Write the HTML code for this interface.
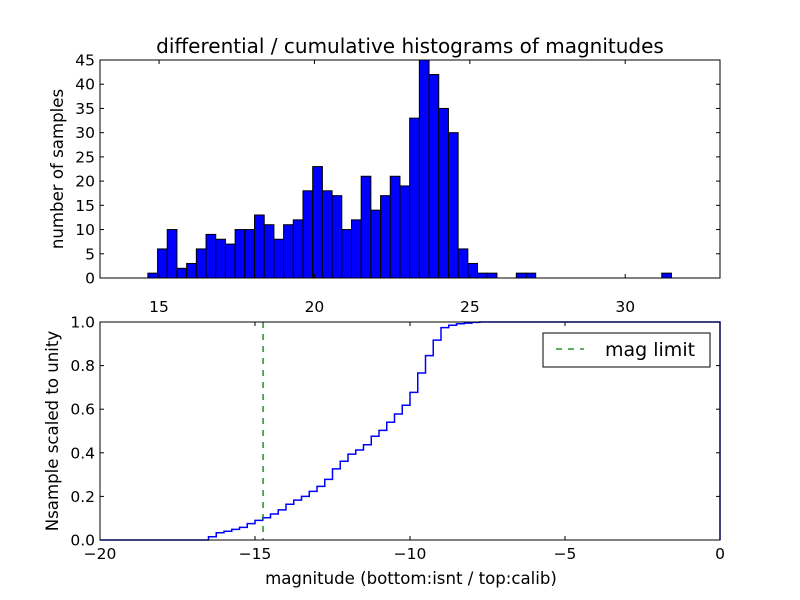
<!DOCTYPE html>
<html><head><meta charset="utf-8">
<style>
html,body{margin:0;padding:0;background:#fff;}
svg{display:block;font-family:"DejaVu Sans","Liberation Sans",sans-serif;}
</style></head>
<body>
<svg id="chart" width="800" height="600" viewBox="0 0 800 600" xmlns="http://www.w3.org/2000/svg">
<rect x="0" y="0" width="800" height="600" fill="#ffffff"/>
<text x="410" y="53" font-size="20" text-anchor="middle">differential / cumulative histograms of magnitudes</text>
<g id="topAxes"></g>
<g id="bottomAxes"></g>
<text x="63" y="169" font-size="16.6" text-anchor="middle" transform="rotate(-90 63 169)">number of samples</text>
<text x="58" y="431" font-size="16.6" text-anchor="middle" transform="rotate(-90 58 431)">Nsample scaled to unity</text>
<text x="411" y="584" font-size="16.6" text-anchor="middle">magnitude (bottom:isnt / top:calib)</text>
</svg>
<script>
// ---- top histogram data ----
const histStart = 14.64;
const histBinWidth = 0.312;
const histCounts = [1,6,10,2,3,6,9,8,7,10,10,13,11,8,11,12,18,23,18,17,10,12,21,14,17,21,19,33,45,42,35,30,6,3,1,1,0,0,1,1,0,0,0,0,0,0,0,0,0,0,0,0,0,1];
const topXTicks = [15,20,25,30];
const topYTicks = [0,5,10,15,20,25,30,35,40,45];
// ---- bottom cumulative data ----
const cumStart = -16.5;
const cumBinWidth = 0.25;
const cumValues = [0.015,0.033,0.04,0.049,0.058,0.075,0.09,0.102,0.119,0.138,0.164,0.183,0.2,0.223,0.246,0.278,0.326,0.361,0.394,0.413,0.437,0.476,0.503,0.54,0.578,0.618,0.677,0.766,0.846,0.917,0.974,0.985,0.992,0.995,0.998,1.0];
const magLimit = -14.74;
const botXTicks = [-20,-15,-10,-5,0];
const botYTicks = [0.0,0.2,0.4,0.6,0.8,1.0];

const NS = "http://www.w3.org/2000/svg";
function mk(parent, tag, attrs){const e=document.createElementNS(NS,tag);for(const k in attrs)e.setAttribute(k,attrs[k]);parent.appendChild(e);return e;}

// top axes
const TL=100,TR=720,TT=60,TB=278;
const txMin=13.1,txMax=33.05,tyMax=45;
const tx=v=>TL+(v-txMin)/(txMax-txMin)*(TR-TL);
const ty=v=>TB-v/tyMax*(TB-TT);
const topG=document.getElementById('topAxes');
histCounts.forEach((c,i)=>{
  if(c<=0) return;
  const x0=tx(histStart+i*histBinWidth), x1=tx(histStart+(i+1)*histBinWidth);
  const r=mk(topG,'rect',{x:x0,y:ty(c),width:x1-x0,height:ty(0)-ty(c),fill:'#0000ff',stroke:'#000','stroke-width':1});
  
  
});
const tf=mk(topG,'rect',{x:TL,y:TT,width:TR-TL,height:TB-TT,fill:'none',stroke:'#000','stroke-width':1});


topXTicks.forEach(v=>{
  const x=tx(v);
  mk(topG,'line',{x1:x,y1:TB,x2:x,y2:TB-4,stroke:'#000'});
  mk(topG,'line',{x1:x,y1:TT,x2:x,y2:TT+4,stroke:'#000'});
  const t=mk(topG,'text',{x:x,y:312,'font-size':15.5,'text-anchor':'middle'});
  t.textContent=v;
  
  
});
topYTicks.forEach(v=>{
  const y=ty(v);
  mk(topG,'line',{x1:TL,y1:y,x2:TL+4,y2:y,stroke:'#000'});
  mk(topG,'line',{x1:TR,y1:y,x2:TR-4,y2:y,stroke:'#000'});
  const t=mk(topG,'text',{x:TL-5,y:y+5.5,'font-size':15.5,'text-anchor':'end'});
  t.textContent=v;
  
  
});

// bottom axes
const BL=100,BR=720,BT=322,BB=540;
const bx=v=>BL+(v-(-20))/20*(BR-BL);
const by=v=>BB-v*(BB-BT);
const botG=document.getElementById('bottomAxes');
let d=`M${BL},${by(0)} L${bx(cumStart)},${by(0)}`;
cumValues.forEach((v,i)=>{
  const x0=bx(cumStart+i*cumBinWidth), x1=bx(cumStart+(i+1)*cumBinWidth);
  d+=` L${x0},${by(v)} L${x1},${by(v)}`;
});
d+=` L${BR},${by(1)} L${BR},${by(0)}`;
const p=mk(botG,'path',{d:d,fill:'none',stroke:'#0000ff','stroke-width':1.5});


const ml=mk(botG,'line',{x1:bx(magLimit),y1:BT,x2:bx(magLimit),y2:BB,stroke:'#007f00','stroke-width':1.3,'stroke-dasharray':'6,6'});


const bf=mk(botG,'rect',{x:BL,y:BT,width:BR-BL,height:BB-BT,fill:'none',stroke:'#000','stroke-width':1});


botXTicks.forEach(v=>{
  const x=bx(v);
  mk(botG,'line',{x1:x,y1:BB,x2:x,y2:BB-4,stroke:'#000'});
  mk(botG,'line',{x1:x,y1:BT,x2:x,y2:BT+4,stroke:'#000'});
  const t=mk(botG,'text',{x:x,y:559,'font-size':15.5,'text-anchor':'middle'});
  t.textContent=(v<0?'\u2212'+(-v):v);
  
  
});
botYTicks.forEach(v=>{
  const y=by(v);
  mk(botG,'line',{x1:BL,y1:y,x2:BL+4,y2:y,stroke:'#000'});
  mk(botG,'line',{x1:BR,y1:y,x2:BR-4,y2:y,stroke:'#000'});
  const t=mk(botG,'text',{x:BL-5,y:y+5.5,'font-size':15.5,'text-anchor':'end'});
  t.textContent=v.toFixed(1);
  
  
});
// legend
const lg=mk(botG,'g',{});


mk(lg,'rect',{x:543,y:333,width:167,height:34,fill:'#fff',stroke:'#000','stroke-width':1});
mk(lg,'line',{x1:556,y1:349,x2:584,y2:349,stroke:'#007f00','stroke-width':1.3,'stroke-dasharray':'6,6'});
const lt=mk(lg,'text',{x:605,y:356,'font-size':19});
lt.textContent='mag limit';


</script>
</body></html>
